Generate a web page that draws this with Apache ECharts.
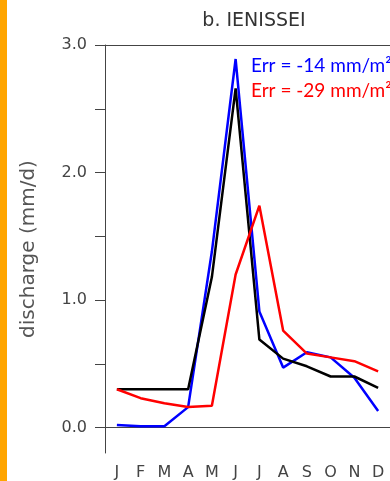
<!DOCTYPE html>
<html>
<head>
<meta charset="utf-8">
<script src="https://cdn.jsdelivr.net/npm/echarts@6/dist/echarts.min.js"></script>
<style>
  html, body { margin: 0; padding: 0; background: #fff; }
  #chart { width: 390px; height: 481px; }
</style>
</head>
<body>
<div id="chart"></div>
<script>
const months = ['J', 'F', 'M', 'A', 'M', 'J', 'J', 'A', 'S', 'O', 'N', 'D'];
const observed = [0.30, 0.30, 0.30, 0.30, 1.18, 2.66, 0.69, 0.54, 0.48, 0.40, 0.40, 0.31];
const modelBlue = [0.02, 0.01, 0.01, 0.16, 1.38, 2.89, 0.91, 0.47, 0.59, 0.55, 0.39, 0.13];
const modelRed = [0.30, 0.23, 0.19, 0.16, 0.17, 1.20, 1.74, 0.76, 0.58, 0.55, 0.52, 0.44];
const yLabels = [0, 1, 2, 3];
const yTicks = [0, 0.5, 1, 1.5, 2, 2.5, 3];

const chart = echarts.init(document.getElementById('chart'));

const axisColor = '#444';
const labelFont = { color: '#444', fontFamily: 'DejaVu Sans', fontSize: 16 };

chart.setOption({
  backgroundColor: '#fff',
  animation: false,
  title: [
    {
      text: 'b. IENISSEI',
      left: 249,
      top: 7,
      textAlign: 'center',
      textStyle: { color: '#333', fontFamily: 'DejaVu Sans', fontSize: 19, fontWeight: 'normal' }
    },
    {
      text: 'Err = -14 mm/m²',
      left: 246,
      top: 51,
      textStyle: { color: '#0000ff', fontFamily: 'Lato', fontSize: 19, fontWeight: 'normal' }
    },
    {
      text: 'Err = -29 mm/m²',
      left: 246,
      top: 76,
      textStyle: { color: '#ff0000', fontFamily: 'Lato', fontSize: 19, fontWeight: 'normal' }
    }
  ],
  graphic: [{
    type: 'rect',
    shape: { x: 0, y: 0, width: 7, height: 481 },
    style: { fill: '#ffa500' }
  }],
  grid: { left: 105, right: -3, top: 45, bottom: 27 },
  xAxis: [
    {
      type: 'category',
      data: months,
      position: 'bottom',
      boundaryGap: true,
      axisLine: { lineStyle: { color: axisColor, width: 1 } },
      axisTick: { length: 5, lineStyle: { color: axisColor } },
      axisLabel: { ...labelFont, margin: 12 },
      splitLine: { show: false }
    },
    {
      type: 'category',
      data: months,
      position: 'top',
      boundaryGap: true,
      axisLine: { lineStyle: { color: axisColor, width: 1 } },
      axisTick: { length: 5, lineStyle: { color: axisColor } },
      axisLabel: { show: false },
      splitLine: { show: false }
    }
  ],
  yAxis: {
    type: 'value',
    min: -0.2,
    max: 3.0,
    name: 'discharge (mm/d)',
    nameLocation: 'middle',
    nameGap: 66,
    nameRotate: 90,
    nameTextStyle: { color: '#555', fontFamily: 'DejaVu Sans', fontSize: 20 },
    axisLine: { show: true, lineStyle: { color: axisColor, width: 1 } },
    axisTick: { show: true, length: 10, customValues: yTicks, lineStyle: { color: axisColor } },
    axisLabel: {
      ...labelFont,
      margin: 18,
      customValues: yLabels,
      formatter: v => v.toFixed(1)
    },
    splitLine: { show: false }
  },
  series: [
    {
      name: 'observed',
      type: 'line',
      data: observed,
      symbol: 'none',
      lineStyle: { color: '#000', width: 2.5 },
      z: 2
    },
    {
      name: 'model A',
      type: 'line',
      data: modelBlue,
      symbol: 'none',
      lineStyle: { color: '#0000ff', width: 2.5 },
      z: 1
    },
    {
      name: 'model B',
      type: 'line',
      data: modelRed,
      symbol: 'none',
      lineStyle: { color: '#ff0000', width: 2.5 },
      z: 3
    }
  ]
});
</script>
</body>
</html>
